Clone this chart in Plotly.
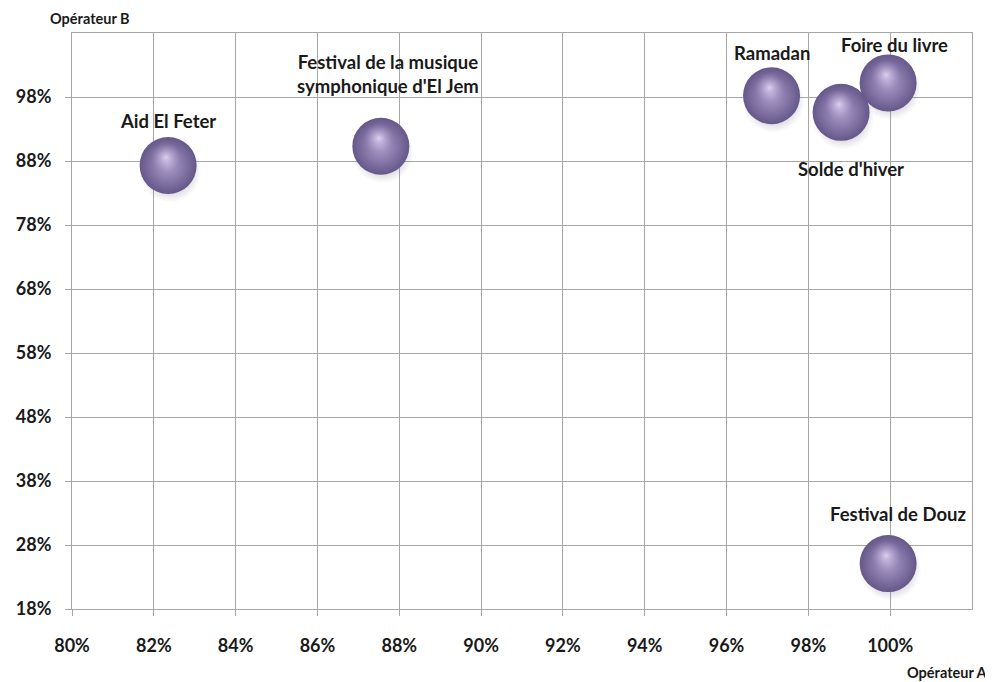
import plotly.graph_objects as go

events = ["Aid El Feter", "Festival de la musique<br>symphonique d'El Jem", "Ramadan",
          "Solde d'hiver", "Foire du livre", "Festival de Douz"]
op_a = [0.8235, 0.8755, 0.971, 0.988, 0.9995, 0.9995]
op_b = [0.873, 0.903, 0.982, 0.956, 1.002, 0.251]
x_ticks = [0.80, 0.82, 0.84, 0.86, 0.88, 0.90, 0.92, 0.94, 0.96, 0.98, 1.00]
y_ticks = [0.18, 0.28, 0.38, 0.48, 0.58, 0.68, 0.78, 0.88, 0.98]

OFF = 8  # default page body margin
W, H = 993 - OFF, 682 - OFF
ml, mr, mt, mb = 72 - OFF, 21, 33 - OFF, 73
xr = [0.80, 1.02]
yr = [0.18, 1.08]
pw, ph = W - ml - mr, H - mt - mb
px_x = (xr[1] - xr[0]) / pw
px_y = (yr[1] - yr[0]) / ph

# label offsets (pixels) relative to bubble centre
label_shift = [(0, 44), (7, 72), (0, 43), (10, -57), (6, 38), (10, 50)]

fig = go.Figure()
# soft shadow
fig.add_trace(go.Scatter(
    x=[v + 2 * px_x for v in op_a], y=[v - 6 * px_y for v in op_b], mode="markers",
    marker=dict(size=62, color="rgba(60,45,80,0)",
                gradient=dict(type="radial", color="rgba(60,45,80,0.55)"),
                line=dict(width=0)),
    hoverinfo="skip", showlegend=False))
# sphere body
fig.add_trace(go.Scatter(
    x=op_a, y=op_b, mode="markers",
    marker=dict(size=57, color="#66578a",
                gradient=dict(type="radial", color="#ad9fcc"),
                line=dict(width=0)),
    text=events, hoverinfo="text", showlegend=False))
# highlight
fig.add_trace(go.Scatter(
    x=[v - 2 * px_x for v in op_a], y=[v + 8 * px_y for v in op_b], mode="markers",
    marker=dict(size=30, color="rgba(170,152,205,0)",
                gradient=dict(type="radial", color="rgba(228,216,246,0.9)"),
                line=dict(width=0)),
    hoverinfo="skip", showlegend=False))

font_family = "Lato, 'Open Sans', sans-serif"
for name, xa, yb, (dx, dy) in zip(events, op_a, op_b, label_shift):
    fig.add_annotation(x=xa, y=yb, text="<b>" + name + "</b>", showarrow=False,
                       xshift=dx, yshift=dy, xref="x", yref="y",
                       font=dict(size=18.5, color="#1a1a1a", family=font_family),
                       align="center")

fig.add_annotation(xref="paper", yref="paper", x=(48 - 72) / pw, y=(609 - 8) / ph,
                   xanchor="left", yanchor="top", text="<b>Opérateur B</b>",
                   showarrow=False, font=dict(size=14.5, color="#1a1a1a", family=font_family))
fig.add_annotation(xref="paper", yref="paper", x=(990 - 72) / pw, y=(609 - 672) / ph,
                   xanchor="right", yanchor="middle", text="<b>Opérateur A</b>",
                   showarrow=False, font=dict(size=14.5, color="#1a1a1a", family=font_family))

axis_common = dict(showgrid=True, gridcolor="#a6a6a6", gridwidth=1,
                   showline=True, linecolor="#a6a6a6", linewidth=1, mirror=True,
                   ticks="outside", ticklen=6, tickcolor="#a6a6a6",
                   zeroline=False, tickformat=".0%", automargin=False,
                   tickfont=dict(size=18, color="#1a1a1a", family=font_family, weight=700))
fig.update_xaxes(range=xr, tickvals=x_ticks, ticklabelstandoff=14, **axis_common)
fig.update_yaxes(range=yr, tickvals=y_ticks, ticklabelstandoff=10, **axis_common)

fig.update_layout(width=W, height=H, margin=dict(l=ml, r=mr, t=mt, b=mb, autoexpand=False),
                  plot_bgcolor="white", paper_bgcolor="white", showlegend=False)
fig.write_html("out.html")
